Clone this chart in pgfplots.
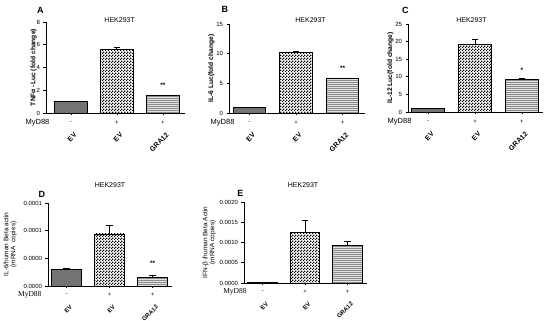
\documentclass[border=0pt]{standalone}
\usepackage{pgfplots}
\pgfplotsset{compat=1.18}
\usepackage{fontspec}
\setmainfont{Liberation Sans}
\newfontfamily\serif{Liberation Serif}
\usetikzlibrary{patterns}
\pgfdeclarepatternformonly{mycheck}{\pgfpointorigin}{\pgfpoint{3pt}{3pt}}{\pgfpoint{3pt}{3pt}}{%
  \pgfpathrectangle{\pgfpointorigin}{\pgfpoint{1.5pt}{1.5pt}}%
  \pgfpathrectangle{\pgfpoint{1.5pt}{1.5pt}}{\pgfpoint{1.5pt}{1.5pt}}%
  \pgfusepath{fill}}
\pgfdeclarepatternformonly{myhlines}{\pgfpoint{-1pt}{0pt}}{\pgfpoint{1pt}{2pt}}{\pgfpoint{1pt}{2pt}}{%
  \pgfsetlinewidth{0.6pt}%
  \pgfpathmoveto{\pgfpoint{-1pt}{0.5pt}}\pgfpathlineto{\pgfpoint{1pt}{0.5pt}}%
  \pgfusepath{stroke}}
\pgfplotsset{
  panel/.style={
    scale only axis, anchor=south west,
    axis lines*=left, axis line style={line width=0.8pt},
    ymin=0, xtick={0,1,2}, xticklabels={EV,EV,GRA12},
    tick align=outside, major tick length=2.5pt,
    tick style={line width=0.7pt, black},
    yticklabel style={font=\fontsize{6}{7}\selectfont},
    /pgf/number format/assume math mode=true,
    ylabel style={font=\bfseries\fontsize{6.7}{7}\selectfont},
    ylabel shift=-5pt,
    bar width=0.7, ybar, bar shift=0pt,
    clip=false,
    error bars/y dir=plus, error bars/y explicit,
    error bars/error bar style={line width=0.8pt},
    error bars/error mark options={rotate=90, mark size=3.3pt, line width=0.8pt},
  },
  toplab/.style={xticklabel style={xshift=7pt, yshift=-16pt, rotate=45, anchor=east, font=\bfseries\fontsize{7}{8}\selectfont}},
  botlab/.style={xticklabel style={xshift=7pt, yshift=-15pt, rotate=45, anchor=east, font=\bfseries\fontsize{6}{7}\selectfont},
    ylabel style={font=\fontsize{6.5}{7}\selectfont, align=center}, ylabel shift=-3pt},
  b1/.style={fill=black!55, draw=black, line width=0.9pt},
  b2/.style={pattern=mycheck, pattern color=black, draw=black, line width=0.9pt},
  b3/.style={fill=black!12, postaction={pattern=myhlines, pattern color=black!45}, draw=black, line width=0.9pt},
}
\newcommand{\signs}[1]{%
  \node[font=\fontsize{6}{7}\selectfont, yshift=-#1] at (axis cs:0,0) {-};
  \node[font=\fontsize{6}{7}\selectfont, yshift=-#1] at (axis cs:1,0) {+};
  \node[font=\fontsize{6}{7}\selectfont, yshift=-#1] at (axis cs:2,0) {+};}
\begin{document}
\begin{tikzpicture}
\useasboundingbox (0,0) rectangle (550pt,321pt);
% A
\begin{axis}[panel, toplab, at={(46pt,208pt)}, width=139pt, height=91pt,
  xmin=-0.54, xmax=2.48, ymax=8, ytick={0,2,4,6,8}, ylabel shift=-7pt,
  ylabel={TNFα -Luc (fold change)}]
\addplot[b1] coordinates {(0,1.0) +- (0,0.02)};
\addplot[b2] coordinates {(1,5.6) +- (0,0.15)};
\addplot[b3] coordinates {(2,1.5) +- (0,0.08)};
\signs{10pt}
\node[font=\fontsize{7.5}{8}\selectfont, anchor=east, yshift=-10pt] at (rel axis cs:0.05,0) {MyD88};
\node[font=\bfseries\fontsize{6.5}{7}\selectfont] at (axis cs:2,2.45) {**};
\node[font=\fontsize{7}{8}\selectfont] at (rel axis cs:0.53,1.02) {HEK293T};
\node[font=\bfseries\fontsize{9}{10}\selectfont] at (rel axis cs:-0.04,1.13) {A};
\end{axis}
% B
\begin{axis}[panel, toplab, at={(229pt,208pt)}, width=136pt, height=89pt,
  xmin=-0.44, xmax=2.48, ymax=15, ytick={0,5,10,15},
  ylabel={IL-6 Luc(fold change)}]
\addplot[b1] coordinates {(0,1.0) +- (0,0.02)};
\addplot[b2] coordinates {(1,10.2) +- (0,0.2)};
\addplot[b3] coordinates {(2,5.8) +- (0,0.1)};
\signs{10pt}
\node[font=\fontsize{7.5}{8}\selectfont, anchor=east, yshift=-10pt] at (rel axis cs:0.066,0) {MyD88};
\node[font=\bfseries\fontsize{6.5}{7}\selectfont] at (axis cs:2,7.6) {**};
\node[font=\fontsize{7}{8}\selectfont] at (rel axis cs:0.6,1.04) {HEK293T};
\node[font=\bfseries\fontsize{9}{10}\selectfont] at (rel axis cs:-0.03,1.16) {B};
\end{axis}
% C
\begin{axis}[panel, toplab, at={(408pt,209pt)}, width=135pt, height=88pt,
  xmin=-0.43, xmax=2.45, ymax=25, ytick={0,5,10,15,20,25},
  ylabel={IL-12 Luc(fold change)}]
\addplot[b1] coordinates {(0,1.0) +- (0,0.02)};
\addplot[b2] coordinates {(1,19.3) +- (0,1.2)};
\addplot[b3] coordinates {(2,9.2) +- (0,0.3)};
\signs{10pt}
\node[font=\fontsize{7.5}{8}\selectfont, anchor=east, yshift=-10pt] at (rel axis cs:0.052,0) {MyD88};
\node[font=\bfseries\fontsize{6.5}{7}\selectfont] at (axis cs:2,11.9) {*};
\node[font=\fontsize{7}{8}\selectfont] at (rel axis cs:0.47,1.05) {HEK293T};
\node[font=\bfseries\fontsize{9}{10}\selectfont] at (rel axis cs:-0.02,1.16) {C};
\end{axis}
% D
\begin{axis}[panel, botlab, at={(48pt,35pt)}, width=124pt, height=83pt,
  xmin=-0.43, xmax=2.45, ymax=0.00015, ytick={0,0.00005,0.0001,0.00015},
  yticklabels={0.0000,0.0000,0.0001,0.0001}, scaled y ticks=false,
  ylabel shift=0pt,
  ylabel={IL-6/human Beta actin\\(mRNA\ \ copies)}]
\addplot[b1] coordinates {(0,0.0000305) +- (0,0.0000015)};
\addplot[b2] coordinates {(1,0.000094) +- (0,0.000015)};
\addplot[b3] coordinates {(2,0.0000155) +- (0,0.000004)};
\signs{9pt}
\node[font=\serif\fontsize{7.5}{8}\selectfont, anchor=east, yshift=-9pt] at (rel axis cs:-0.024,0) {MyD88};
\node[font=\bfseries\fontsize{6.5}{7}\selectfont] at (axis cs:2,0.0000415) {**};
\node[font=\fontsize{7}{8}\selectfont] at (rel axis cs:0.5,1.22) {HEK293T};
\node[font=\bfseries\fontsize{9}{10}\selectfont] at (rel axis cs:-0.05,1.1) {D};
\end{axis}
% E
\begin{axis}[panel, botlab, at={(244pt,38pt)}, width=123pt, height=81pt,
  xmin=-0.44, xmax=2.46, ymax=0.002, ytick={0,0.0005,0.001,0.0015,0.002},
  yticklabels={0.0000,0.0005,0.0010,0.0015,0.0020}, scaled y ticks=false,
  ylabel={IFN-β /human Beta Actin\\(mRNA copies)}]
\addplot[b1] coordinates {(0,0.00001) +- (0,0.000002)};
\addplot[b2] coordinates {(1,0.00125) +- (0,0.00029)};
\addplot[b3] coordinates {(2,0.00092) +- (0,0.00011)};
\signs{9pt}
\node[font=\serif\fontsize{7.5}{8}\selectfont, anchor=east, yshift=-9pt] at (rel axis cs:0.05,0) {MyD88};
\node[font=\fontsize{7}{8}\selectfont] at (rel axis cs:0.48,1.21) {HEK293T};
\node[font=\bfseries\fontsize{9}{10}\selectfont] at (rel axis cs:-0.03,1.1) {E};
\end{axis}
\end{tikzpicture}
\end{document}
